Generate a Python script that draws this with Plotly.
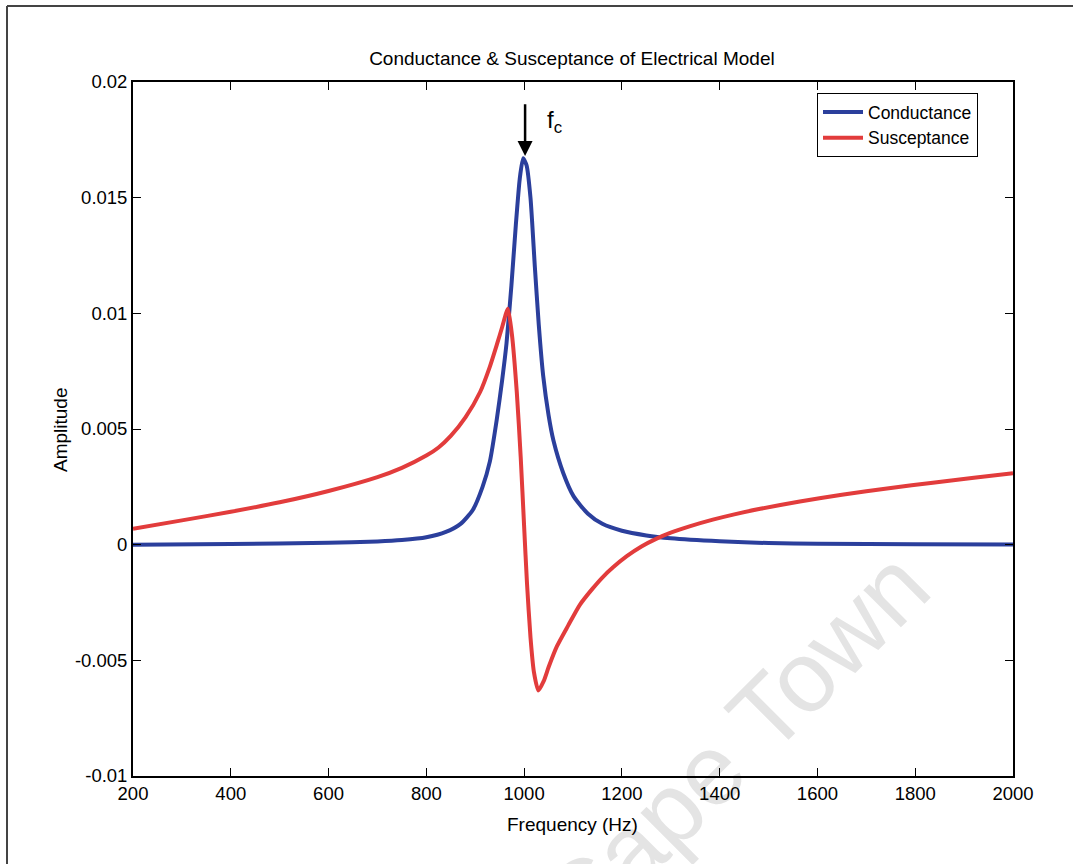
import plotly.graph_objects as go

# Conductance
cond_freq = [200, 400, 600, 700, 750, 800, 840, 870, 895, 915, 930, 944, 955, 964, 974, 983,
             991, 998, 1005, 1013, 1022, 1030, 1039, 1050, 1060, 1080, 1101, 1130, 1160, 1200,
             1250, 1300, 1400, 1500, 1600, 1800, 2000]
cond_vals = [0.0, 0.00003, 0.00008, 0.00014, 0.0002, 0.00032, 0.00055, 0.0009, 0.0015, 0.0025,
             0.0036, 0.0054, 0.0071, 0.0087, 0.0112, 0.0138, 0.0158, 0.0167, 0.0164, 0.0150,
             0.0120, 0.0095, 0.0073, 0.0056, 0.0045, 0.0031, 0.0021, 0.00135, 0.0009, 0.0006,
             0.0004, 0.00028, 0.00015, 0.00007, 0.00004, 0.00002, 0.00001]

# Susceptance
susc_freq = [200, 300, 400, 500, 600, 700, 750, 800, 825, 850, 880, 910, 930, 945, 955, 963, 967,
             975, 985, 993, 1000, 1006, 1013, 1020, 1029, 1040, 1050, 1067, 1090, 1114, 1140,
             1160, 1182, 1210, 1240, 1271, 1300, 1340, 1386, 1430, 1483, 1564, 1650, 1750, 1836,
             1920, 2000]
susc_vals = [0.00069, 0.00105, 0.00142, 0.00183, 0.00232, 0.00292, 0.00332, 0.00385, 0.0042, 0.0047,
             0.0055, 0.0066, 0.0077, 0.0087, 0.0094, 0.0100, 0.0102, 0.0091, 0.0066, 0.0038, 0.0008,
             -0.0017, -0.0040, -0.0055, -0.0063, -0.0059, -0.0053, -0.0044, -0.0035, -0.0026, -0.0019,
             -0.00142, -0.00098, -0.0005, -0.00008, 0.00026, 0.00052, 0.0008, 0.00108, 0.00131, 0.00155,
             0.00187, 0.00216, 0.00245, 0.00268, 0.00289, 0.00309]

x_ticks = [200, 400, 600, 800, 1000, 1200, 1400, 1600, 1800, 2000]
x_tick_labels = [str(v) for v in x_ticks]
y_ticks = [-0.01, -0.005, 0, 0.005, 0.01, 0.015, 0.02]
y_tick_labels = ["-0.01", "-0.005", "0", "0.005", "0.01", "0.015", "0.02"]

FONT = "Liberation Sans, Arial, sans-serif"

fig = go.Figure()
fig.add_trace(go.Scatter(x=cond_freq, y=cond_vals, mode="lines", name="Conductance",
                         line=dict(color="#2b3f9c", width=4, shape="spline", smoothing=0.6)))
fig.add_trace(go.Scatter(x=susc_freq, y=susc_vals, mode="lines", name="Susceptance",
                         line=dict(color="#e23c3c", width=4, shape="spline", smoothing=0.6)))

axis_common = dict(showgrid=False, zeroline=False, showline=True, linecolor="black", linewidth=1.8,
                   mirror="ticks", ticks="inside", ticklen=8, tickwidth=1.3, tickcolor="black",
                   tickfont=dict(family=FONT, size=18.5, color="black"))

fig.update_xaxes(range=[200, 2000], tickvals=x_ticks, ticktext=x_tick_labels, **axis_common)
fig.update_yaxes(range=[-0.01, 0.02], tickvals=y_ticks, ticktext=y_tick_labels, **axis_common)

fig.update_layout(
    width=1073, height=864,
    margin=dict(l=133, r=60, t=82, b=88),
    paper_bgcolor="white", plot_bgcolor="white",
    font=dict(family=FONT, color="black"),
    title=dict(text="Conductance & Susceptance of Electrical Model", x=0.533, xanchor="center",
               y=1 - 58 / 864, yanchor="middle", font=dict(family=FONT, size=19, color="black")),
    showlegend=True,
    legend=dict(x=(817 - 133) / 880, y=1 - (93 - 82) / 694, xanchor="left", yanchor="top",
                bgcolor="white", bordercolor="black", borderwidth=1,
                font=dict(family=FONT, size=17.5, color="black"), itemwidth=40, tracegroupgap=0),
)

annotations = [
    dict(text="Frequency (Hz)", xref="paper", yref="paper", x=(572 - 133) / 880, y=(776 - 824) / 694,
         showarrow=False, font=dict(family=FONT, size=19), xanchor="center", yanchor="middle"),
    dict(text="Amplitude", xref="paper", yref="paper", x=(60 - 133) / 880, y=(776 - 430) / 694,
         showarrow=False, textangle=-90, font=dict(family=FONT, size=19), xanchor="center", yanchor="middle"),
    dict(x=1002, y=0.0168, ax=1002, ay=0.0191, xref="x", yref="y", axref="x", ayref="y",
         text="", showarrow=True, arrowhead=2, arrowsize=1.2, arrowwidth=2.5, arrowcolor="black"),
    dict(text="f<sub>c</sub>", x=1042, y=0.0183, xref="x", yref="y", showarrow=False,
         font=dict(family=FONT, size=24, color="black"), xanchor="left", yanchor="middle"),
]
fig.update_layout(annotations=annotations)

# faint watermark, drawn below the axes and traces
wx = (728 - 133) / 880
wy = (776 - 738) / 694
fig.add_shape(type="rect", xref="paper", yref="paper", x0=wx - 0.01, x1=wx + 0.01,
              y0=wy - 0.01, y1=wy + 0.01, layer="below", line=dict(width=0),
              fillcolor="rgba(0,0,0,0)",
              label=dict(text="Cape Town", textangle=-45, textposition="middle center",
                         font=dict(family=FONT, size=100, color="#e4e4e4")))

# outer figure frame (top and left edges visible in the reference)
fig.add_shape(type="line", xref="paper", yref="paper", x0=(7 - 133) / 880, x1=(1073 - 133) / 880,
              y0=(776 - 6) / 694, y1=(776 - 6) / 694, line=dict(color="#444444", width=2))
fig.add_shape(type="line", xref="paper", yref="paper", x0=(7 - 133) / 880, x1=(7 - 133) / 880,
              y0=(776 - 6) / 694, y1=(776 - 864) / 694, line=dict(color="#444444", width=2))

fig.write_html("out.html", config={"displayModeBar": False},
               post_script="document.body.style.margin='0';")
